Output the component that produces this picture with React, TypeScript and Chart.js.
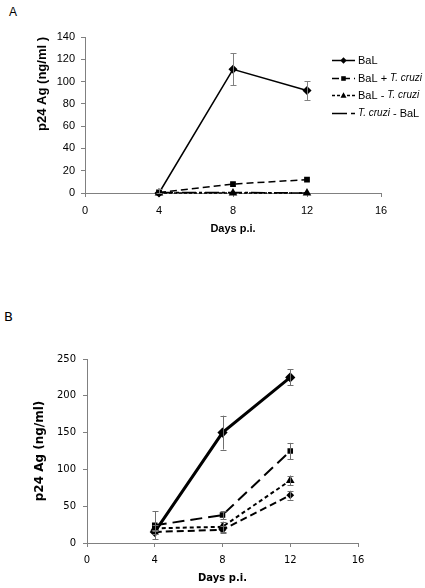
import React, { useEffect, useRef } from 'react';
import { Chart, registerables } from 'chart.js';

Chart.register(...registerables);

// ---------- Data: panel A ----------
const daysA = [4, 8, 12];
const xTicksA = [0, 4, 8, 12, 16];
const labelsA = ['BaL', 'BaL + T. cruzi', 'BaL - T. cruzi', 'T. cruzi - BaL'];
const balA = [0, 111, 92];
const balErrA = [3.5, 14.5, 8.5];
const balPlusA = [0.5, 8, 12];
const balPlusErrA = [0, 0, 0];
const balMinusA = [0, 0, 0];
const balMinusErrA = [0, 0, 0];
const cruziBalA = [0.5, 0.5, 0];
const cruziBalErrA = [0, 0, 0];

// ---------- Data: panel B ----------
const daysB = [4, 8, 12];
const xTicksB = [0, 4, 8, 12, 16];
const labelsB = ['BaL', 'BaL+ T. cruzi', 'BaL- T. cruzi', 'T. cruzi i-BaL'];
const balB = [15, 150, 225];
const balErrB = [3, 23, 11];
const balPlusB = [24, 38, 125];
const balPlusErrB = [19, 5.5, 11];
const balMinusB = [20, 22, 85];
const balMinusErrB = [4, 7, 6.5];
const cruziBalB = [15, 18, 65];
const cruziBalErrB = [3, 5, 6];

const pts = (xs: number[], ys: number[]) => xs.map((x, i) => ({ x, y: ys[i] }));

function drawMarker(ctx: CanvasRenderingContext2D, style: string, x: number, y: number, r: number) {
  if (!style || !r) return;
  ctx.beginPath();
  if (style === 'rectRot') {
    ctx.moveTo(x, y - r); ctx.lineTo(x + r, y); ctx.lineTo(x, y + r); ctx.lineTo(x - r, y); ctx.closePath();
  } else if (style === 'rect') {
    const s = r * 0.85;
    ctx.rect(x - s, y - s, 2 * s, 2 * s);
  } else if (style === 'triangle') {
    ctx.moveTo(x, y - r); ctx.lineTo(x + r * 0.95, y + r * 0.7); ctx.lineTo(x - r * 0.95, y + r * 0.7); ctx.closePath();
  } else {
    ctx.arc(x, y, r, 0, Math.PI * 2);
  }
  ctx.fillStyle = '#000';
  ctx.fill();
}

const errorBarPlugin = {
  id: 'errorBars',
  afterDatasetsDraw(chart: any, _args: any, opts: any) {
    const { ctx, scales } = chart;
    const xs = scales.x, ys = scales.y;
    ctx.save();
    ctx.strokeStyle = opts.color || '#808080';
    ctx.lineWidth = 1;
    const cap = opts.cap || 3;
    chart.data.datasets.forEach((ds: any) => {
      if (!ds.errors) return;
      ds.data.forEach((p: any, i: number) => {
        const e = ds.errors[i];
        if (!e) return;
        const px = Math.round(xs.getPixelForValue(p.x)) + 0.5;
        const lo = ys.getPixelForValue(Math.max(0, p.y - e));
        const hi = ys.getPixelForValue(p.y + e);
        ctx.beginPath();
        ctx.moveTo(px, lo); ctx.lineTo(px, hi);
        ctx.moveTo(px - cap, Math.round(hi) + 0.5); ctx.lineTo(px + cap, Math.round(hi) + 0.5);
        ctx.moveTo(px - cap, Math.round(lo) + 0.5); ctx.lineTo(px + cap, Math.round(lo) + 0.5);
        ctx.stroke();
      });
    });
    ctx.restore();
  },
};

const legendPlugin = {
  id: 'sideLegend',
  afterDraw(chart: any, _args: any, opts: any) {
    const { ctx } = chart;
    const { x, y, dy, lineLen, gap, fontSize, italicSize, family, markerScale } = opts;
    ctx.save();
    chart.data.datasets.forEach((ds: any, i: number) => {
      const yy = Math.round(y + i * dy) + 0.5;
      ctx.strokeStyle = '#000';
      ctx.lineWidth = ds.legendWidth || ds.borderWidth;
      ctx.setLineDash(ds.legendDash || ds.borderDash || []);
      ctx.beginPath();
      ctx.moveTo(x, yy); ctx.lineTo(x + lineLen, yy);
      ctx.stroke();
      ctx.setLineDash([]);
      if (ds.pointRadius) drawMarker(ctx, ds.pointStyle, x + lineLen / 2, yy, ds.pointRadius * (markerScale || 1));
      let tx = x + lineLen + gap;
      ctx.textBaseline = 'middle';
      ctx.fillStyle = '#000';
      const parts = String(ds.label).split(/(T\. cruzi)/);
      parts.forEach((seg: string) => {
        if (!seg) return;
        const it = seg === 'T. cruzi';
        ctx.font = `${it ? 'italic ' : ''}${it ? italicSize : fontSize}px ${family}`;
        ctx.fillText(seg, tx, yy);
        tx += ctx.measureText(seg).width;
      });
    });
    ctx.restore();
  },
};

function makeConfigA(): any {
  const font = { family: '"Liberation Sans", Arial, sans-serif', size: 11 };
  return {
    type: 'line',
    data: {
      datasets: [
        { label: labelsA[0], data: pts(daysA, balA), errors: balErrA, borderColor: '#000', backgroundColor: '#000', borderWidth: 1.5, pointStyle: 'rectRot', pointRadius: 3.5, clip: false },
        { label: labelsA[1], data: pts(daysA, balPlusA), errors: balPlusErrA, borderColor: '#000', backgroundColor: '#000', borderWidth: 1.5, borderDash: [7, 4], pointStyle: 'rect', pointRadius: 3, clip: false },
        { label: labelsA[2], data: pts(daysA, balMinusA), errors: balMinusErrA, borderColor: '#000', backgroundColor: '#000', borderWidth: 1.5, borderDash: [3, 2], pointStyle: 'triangle', pointRadius: 3.5, clip: false },
        { label: labelsA[3], data: pts(daysA, cruziBalA), errors: cruziBalErrA, borderColor: '#000', backgroundColor: '#000', borderWidth: 1.5, borderDash: [14, 3, 3, 3], legendDash: [15, 4, 4, 40], pointRadius: 0, clip: false },
      ],
    },
    options: {
      animation: false,
      responsive: false,
      layout: { padding: { left: 0, right: 44, top: 37, bottom: 0 } },
      plugins: {
        legend: { display: false },
        tooltip: { enabled: false },
        errorBars: { color: '#808080', cap: 3 },
        sideLegend: { x: 332, y: 60, dy: 17.7, lineLen: 23, gap: 3, fontSize: 11, italicSize: 10, family: '"Liberation Sans", Arial, sans-serif', markerScale: 0.9 },
      },
      scales: {
        x: {
          type: 'linear', min: 0, max: 16,
          afterBuildTicks: (s: any) => { s.ticks = xTicksA.map((v) => ({ value: v })); },
          afterFit: (s: any) => { s.height = 47; },
          ticks: { color: '#000', font, padding: 7, maxRotation: 0 },
          grid: { display: true, drawOnChartArea: false, drawTicks: true, tickLength: 4, color: '#808080' },
          border: { display: true, color: '#808080' },
          title: { display: true, text: 'Days p.i.', color: '#000', font: { family: font.family, size: 11, weight: 'bold' }, padding: { top: 0, bottom: 4 } },
        },
        y: {
          min: 0, max: 140,
          afterFit: (s: any) => { s.width = 85; },
          ticks: { stepSize: 20, color: '#000', font, padding: 6 },
          grid: { display: true, drawOnChartArea: false, drawTicks: true, tickLength: 4, color: '#808080' },
          border: { display: true, color: '#808080' },
          title: { display: true, align: 'end', text: 'p24 Ag (ng/ml )', color: '#000', font: { family: font.family, size: 13, weight: 'bold' }, padding: { top: 35, bottom: 0 } },
        },
      },
    },
    plugins: [errorBarPlugin, legendPlugin],
  };
}

function makeConfigB(): any {
  const fam = '"DejaVu Sans", Verdana, sans-serif';
  const font = { family: fam, size: 10 };
  return {
    type: 'line',
    data: {
      datasets: [
        { label: labelsB[0], data: pts(daysB, balB), errors: balErrB, borderColor: '#000', backgroundColor: '#000', borderWidth: 3, pointStyle: 'rectRot', pointRadius: 3, clip: false },
        { label: labelsB[1], data: pts(daysB, balPlusB), errors: balPlusErrB, borderColor: '#000', backgroundColor: '#000', borderWidth: 2, borderDash: [12, 6], legendDash: [6, 3, 3, 3], pointStyle: 'rect', pointRadius: 2.5, clip: false },
        { label: labelsB[2], data: pts(daysB, balMinusB), errors: balMinusErrB, borderColor: '#000', backgroundColor: '#000', borderWidth: 2, borderDash: [4, 3], pointStyle: 'triangle', pointRadius: 3, clip: false },
        { label: labelsB[3], data: pts(daysB, cruziBalB), errors: cruziBalErrB, borderColor: '#000', backgroundColor: '#000', borderWidth: 2, borderDash: [7, 4], legendDash: [], pointStyle: 'rectRot', pointRadius: 2.5, clip: false },
      ],
    },
    options: {
      animation: false,
      responsive: false,
      layout: { padding: { left: 0, right: 67, top: 69, bottom: 0 } },
      plugins: {
        legend: { display: false },
        tooltip: { enabled: false },
        errorBars: { color: '#707070', cap: 3 },
        sideLegend: { x: 345, y: 414, dy: 13.7, lineLen: 15, gap: 2, fontSize: 9, italicSize: 9, family: fam, markerScale: 0.9 },
      },
      scales: {
        x: {
          type: 'linear', min: 0, max: 16,
          afterBuildTicks: (s: any) => { s.ticks = xTicksB.map((v) => ({ value: v })); },
          afterFit: (s: any) => { s.height = 45; },
          ticks: { color: '#000', font, padding: 7, maxRotation: 0 },
          grid: { display: true, drawOnChartArea: false, drawTicks: true, tickLength: 4, color: '#808080' },
          border: { display: true, color: '#808080' },
          title: { display: true, text: 'Days p.i.', color: '#000', font: { family: fam, size: 10, weight: 'bold' }, padding: { top: 0, bottom: 4 } },
        },
        y: {
          min: 0, max: 250,
          afterFit: (s: any) => { s.width = 87; },
          ticks: { stepSize: 50, color: '#000', font, padding: 7 },
          grid: { display: true, drawOnChartArea: false, drawTicks: true, tickLength: 4, color: '#808080' },
          border: { display: true, color: '#808080' },
          title: { display: true, text: 'p24 Ag (ng/ml)', color: '#000', font: { family: fam, size: 12, weight: 'bold' }, padding: { top: 33, bottom: 0 } },
        },
      },
    },
    plugins: [errorBarPlugin, legendPlugin],
  };
}

export default function App() {
  const refA = useRef<HTMLCanvasElement>(null);
  const refB = useRef<HTMLCanvasElement>(null);

  useEffect(() => {
    const a = new Chart(refA.current as HTMLCanvasElement, makeConfigA());
    const b = new Chart(refB.current as HTMLCanvasElement, makeConfigB());
    return () => { a.destroy(); b.destroy(); };
  }, []);

  return (
    <div style={{ position: 'absolute', left: 0, top: 0, width: 425, height: 588, background: '#fff', overflow: 'hidden', fontFamily: '"Liberation Sans", Arial, sans-serif' }}>
      <div style={{ position: 'absolute', left: 9, top: 5, fontSize: 12, color: '#000' }}>A</div>
      <canvas ref={refA} width={425} height={240} style={{ position: 'absolute', left: 0, top: 0, width: 425, height: 240 }} />
      <div style={{ position: 'absolute', left: 4, top: 309, fontSize: 13, color: '#000', fontFamily: '"DejaVu Sans", Verdana, sans-serif' }}>B</div>
      <canvas ref={refB} width={425} height={298} style={{ position: 'absolute', left: 0, top: 290, width: 425, height: 298 }} />
    </div>
  );
}
